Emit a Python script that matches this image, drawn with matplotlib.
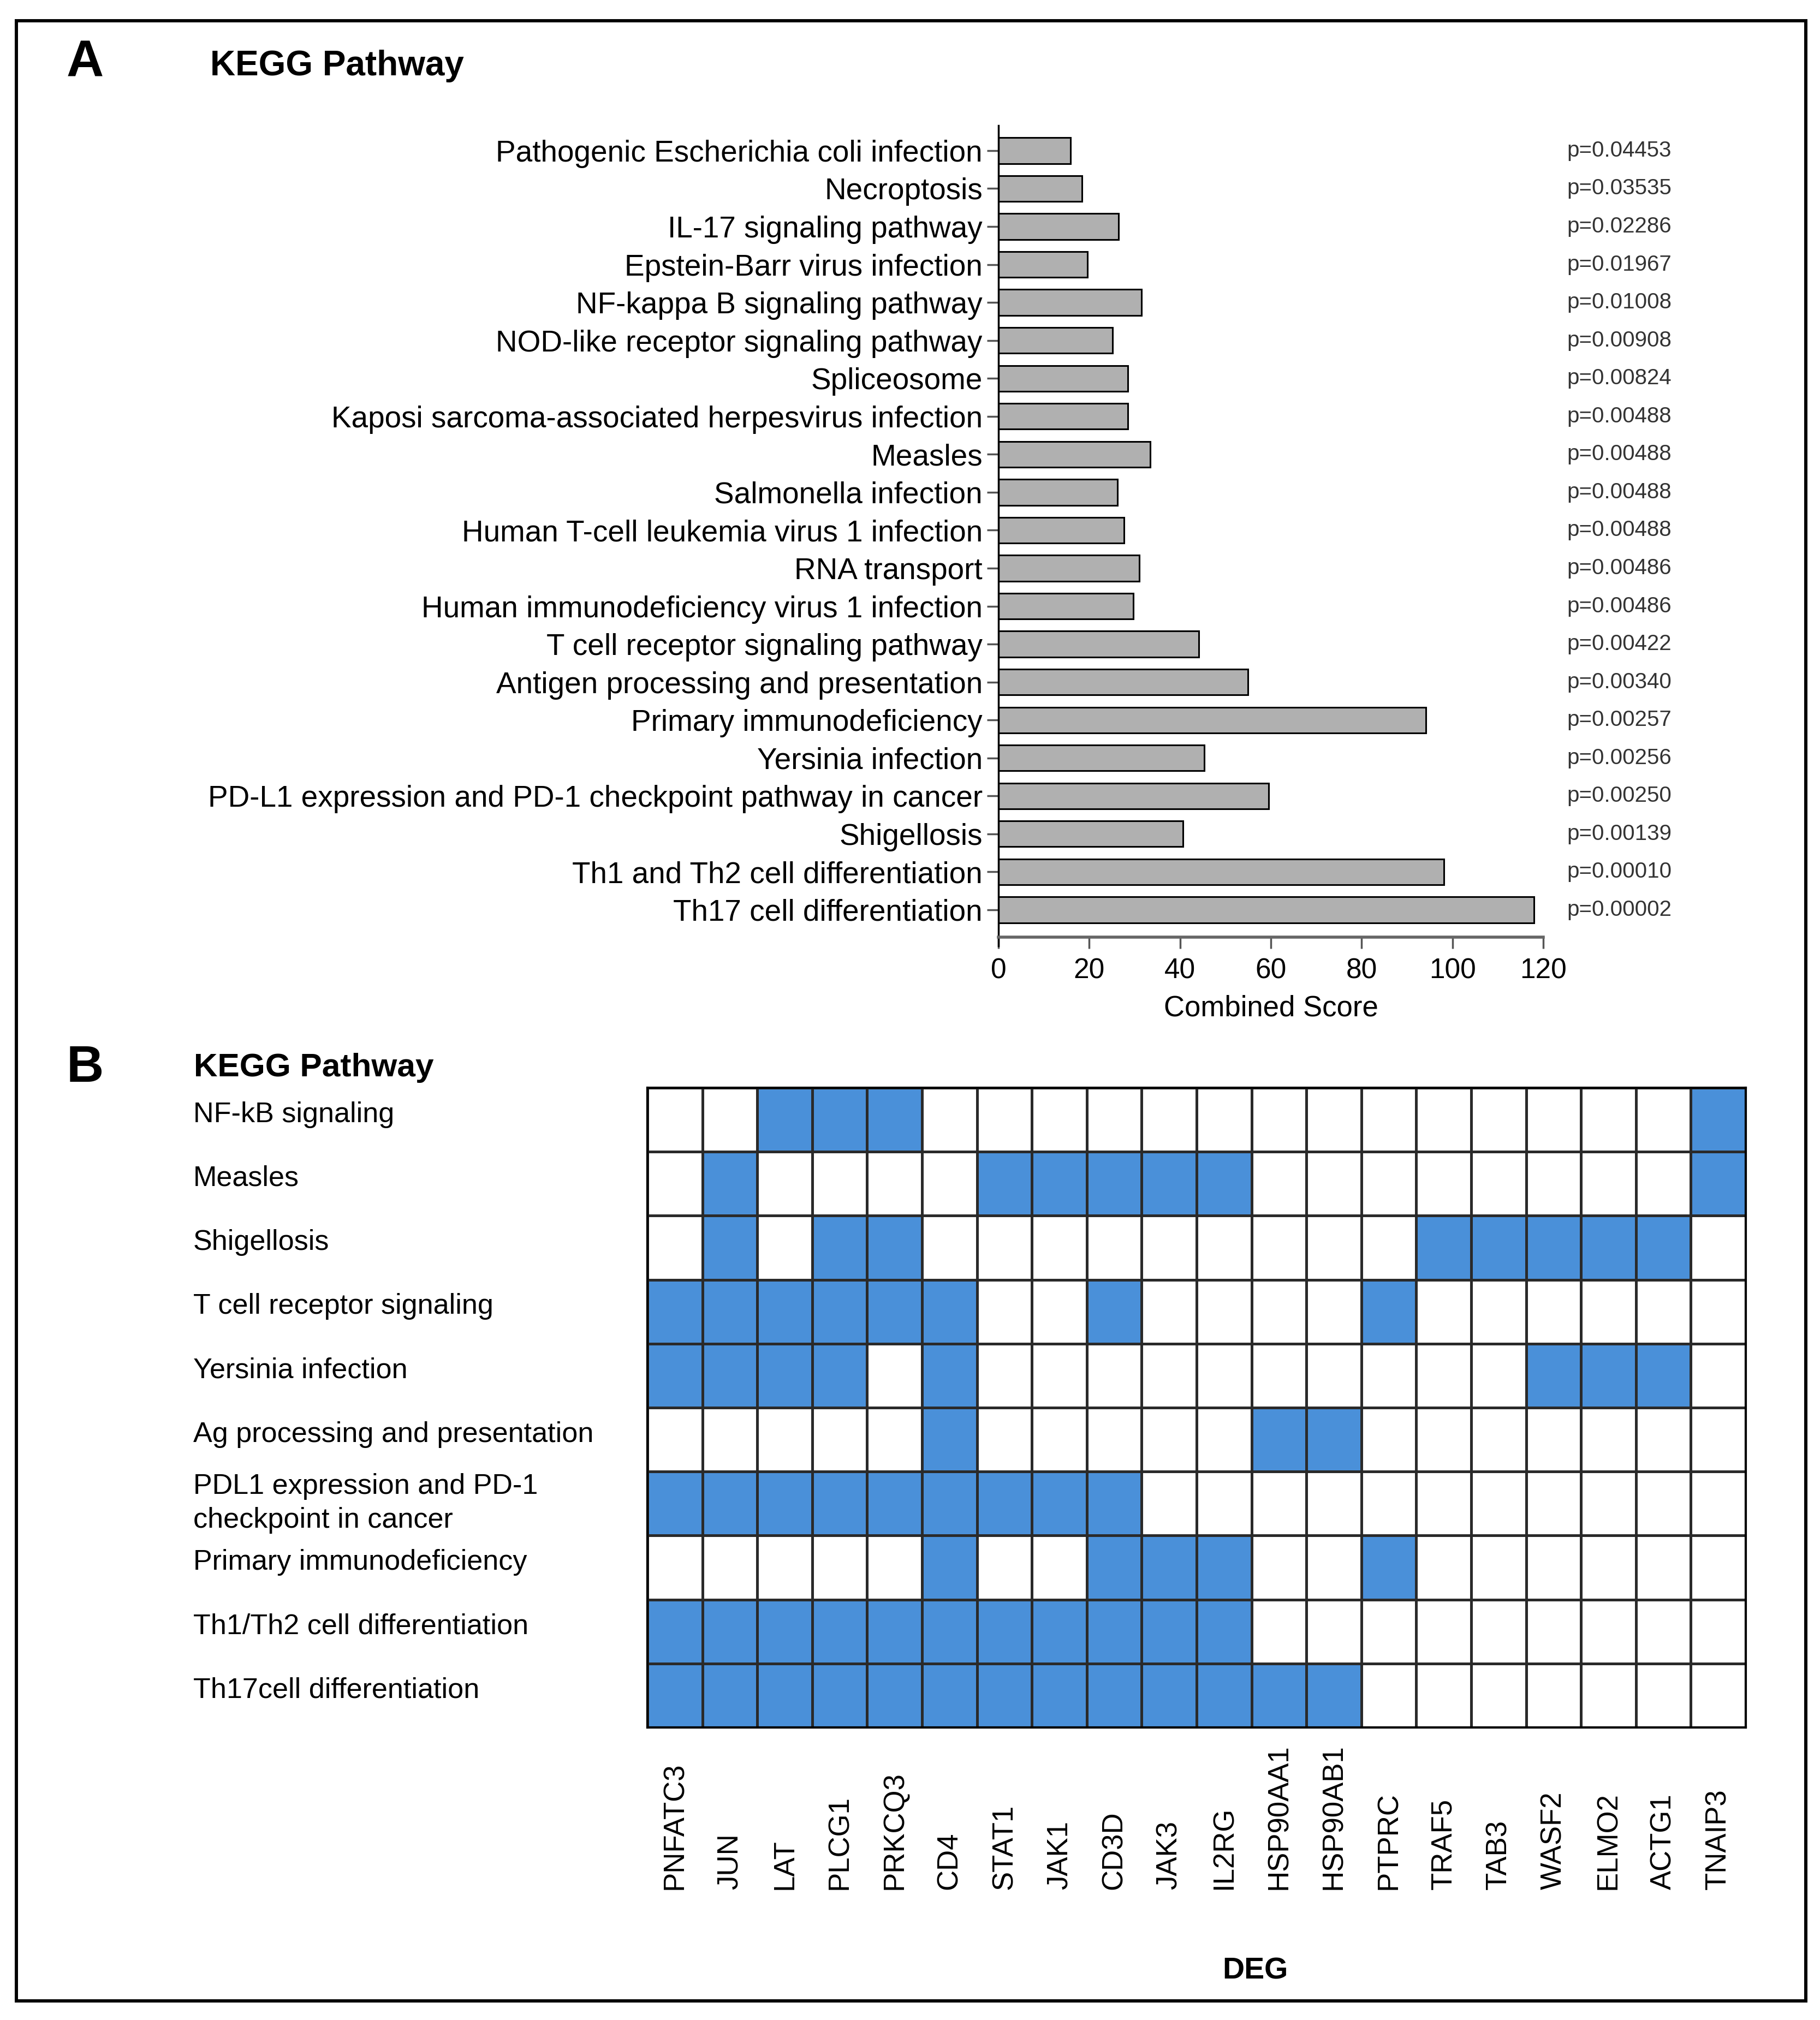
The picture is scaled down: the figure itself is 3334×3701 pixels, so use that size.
import matplotlib
matplotlib.use('Agg')
import matplotlib.pyplot as plt
from matplotlib.colors import ListedColormap
from matplotlib.patches import Rectangle
import numpy as np

plt.rcParams['font.family'] = ['Liberation Sans', 'DejaVu Sans']

# panel A data (top to bottom)
pathways = ['Pathogenic Escherichia coli infection', 'Necroptosis', 'IL-17 signaling pathway',
            'Epstein-Barr virus infection', 'NF-kappa B signaling pathway',
            'NOD-like receptor signaling pathway', 'Spliceosome',
            'Kaposi sarcoma-associated herpesvirus infection', 'Measles', 'Salmonella infection',
            'Human T-cell leukemia virus 1 infection', 'RNA transport',
            'Human immunodeficiency virus 1 infection', 'T cell receptor signaling pathway',
            'Antigen processing and presentation', 'Primary immunodeficiency', 'Yersinia infection',
            'PD-L1 expression and PD-1 checkpoint pathway in cancer', 'Shigellosis',
            'Th1 and Th2 cell differentiation', 'Th17 cell differentiation']
scores = [15.9, 18.4, 26.4, 19.6, 31.5, 25.1, 28.5, 28.5, 33.4, 26.2, 27.6,
          31.0, 29.7, 44.1, 54.9, 94.1, 45.3, 59.5, 40.7, 98.1, 118.0]
pvals = ['p=0.04453', 'p=0.03535', 'p=0.02286', 'p=0.01967', 'p=0.01008', 'p=0.00908',
         'p=0.00824', 'p=0.00488', 'p=0.00488', 'p=0.00488', 'p=0.00488', 'p=0.00486',
         'p=0.00486', 'p=0.00422', 'p=0.00340', 'p=0.00257', 'p=0.00256', 'p=0.00250',
         'p=0.00139', 'p=0.00010', 'p=0.00002']

# panel B data
rows = ['NF-kB signaling', 'Measles', 'Shigellosis', 'T cell receptor signaling',
        'Yersinia infection', 'Ag processing and presentation',
        'PDL1 expression and PD-1\ncheckpoint in cancer', 'Primary immunodeficiency',
        'Th1/Th2 cell differentiation', 'Th17cell differentiation']
genes = ['PNFATC3', 'JUN', 'LAT', 'PLCG1', 'PRKCQ3', 'CD4', 'STAT1', 'JAK1', 'CD3D', 'JAK3',
         'IL2RG', 'HSP90AA1', 'HSP90AB1', 'PTPRC', 'TRAF5', 'TAB3', 'WASF2', 'ELMO2', 'ACTG1',
         'TNAIP3']
membership = [
    [0, 0, 1, 1, 1, 0, 0, 0, 0, 0, 0, 0, 0, 0, 0, 0, 0, 0, 0, 1],
    [0, 1, 0, 0, 0, 0, 1, 1, 1, 1, 1, 0, 0, 0, 0, 0, 0, 0, 0, 1],
    [0, 1, 0, 1, 1, 0, 0, 0, 0, 0, 0, 0, 0, 0, 1, 1, 1, 1, 1, 0],
    [1, 1, 1, 1, 1, 1, 0, 0, 1, 0, 0, 0, 0, 1, 0, 0, 0, 0, 0, 0],
    [1, 1, 1, 1, 0, 1, 0, 0, 0, 0, 0, 0, 0, 0, 0, 0, 1, 1, 1, 0],
    [0, 0, 0, 0, 0, 1, 0, 0, 0, 0, 0, 1, 1, 0, 0, 0, 0, 0, 0, 0],
    [1, 1, 1, 1, 1, 1, 1, 1, 1, 0, 0, 0, 0, 0, 0, 0, 0, 0, 0, 0],
    [0, 0, 0, 0, 0, 1, 0, 0, 1, 1, 1, 0, 0, 1, 0, 0, 0, 0, 0, 0],
    [1, 1, 1, 1, 1, 1, 1, 1, 1, 1, 1, 0, 0, 0, 0, 0, 0, 0, 0, 0],
    [1, 1, 1, 1, 1, 1, 1, 1, 1, 1, 1, 1, 1, 0, 0, 0, 0, 0, 0, 0],
]

W, H = 3334, 3701
fig = plt.figure(figsize=(W / 100, H / 100), dpi=100)


def box(left, top, right, bottom):
    return [left / W, 1 - bottom / H, (right - left) / W, (bottom - top) / H]


# outer frame
fig.patches.append(Rectangle((30 / W, 1 - 3666 / H), 3278 / W, 3628 / H, transform=fig.transFigure,
                             fill=False, edgecolor='black', linewidth=4.3))

# ---------- panel A ----------
ax1 = fig.add_axes(box(1829, 230, 2827, 1717))
y = np.arange(len(pathways))
ax1.barh(y, scores, height=0.68, color='#b0b0b0', edgecolor='black', linewidth=2.2)
ax1.set_xlim(0, 120)
ax1.set_ylim(20.72, -0.66)
ax1.set_yticks(y)
ax1.set_yticklabels(pathways, fontsize=39.5)
ax1.set_xticks(range(0, 121, 20))
ax1.tick_params(axis='x', labelsize=37, length=15, width=2.5, color='#555555', pad=12)
ax1.tick_params(axis='y', length=15, width=2.5, color='#555555', pad=6)
for s in ['top', 'right']:
    ax1.spines[s].set_visible(False)
ax1.spines['left'].set_linewidth(2.5)
ax1.spines['left'].set_bounds(20.95, -0.66)
ax1.spines['bottom'].set_linewidth(4)
ax1.spines['bottom'].set_color('#666666')
ax1.set_xlabel('Combined Score', fontsize=38, labelpad=14)
for i, p in enumerate(pvals):
    ax1.text(125.2, i, p, fontsize=29, color='#333333', va='center', ha='left', clip_on=False)

fig.text(122 / W, 1 - 140 / H, 'A', fontsize=68, fontweight='bold', va='baseline')
fig.text(385 / W, 1 - 138 / H, 'KEGG Pathway', fontsize=46, fontweight='bold', va='baseline')

# ---------- panel B ----------
ax2 = fig.add_axes(box(1186, 1993, 3198, 3165))
mat = np.array(membership)
ax2.pcolormesh(np.arange(len(genes) + 1), np.arange(len(rows) + 1), mat,
               cmap=ListedColormap(['white', '#4a90d9']), edgecolors='#2a2a2a', linewidth=2.5)
ax2.set_xlim(0, len(genes))
ax2.set_ylim(len(rows), 0)
ax2.set_xticks([])
ax2.set_yticks([])
for s in ax2.spines.values():
    s.set_linewidth(3)
for j, g in enumerate(genes):
    ax2.text(j + 0.5, 12.53, g, rotation=90, ha='center', va='bottom', fontsize=38, clip_on=False)
for i, r in enumerate(rows):
    off = 0.5 if '\n' in r else 0.42
    fig.text(354 / W, 1 - (1993 + (i + off) * 117.2) / H, r, fontsize=37.5, ha='left', va='center',
             linespacing=1.35)

fig.text(122 / W, 1 - 1982 / H, 'B', fontsize=68, fontweight='bold', va='baseline')
fig.text(355 / W, 1 - 1972 / H, 'KEGG Pathway', fontsize=43.5, fontweight='bold', va='baseline')
fig.text(2299 / W, 1 - 3612 / H, 'DEG', fontsize=40, fontweight='bold', ha='center', va='center')

fig.savefig('out.png', dpi=100, facecolor='white')
